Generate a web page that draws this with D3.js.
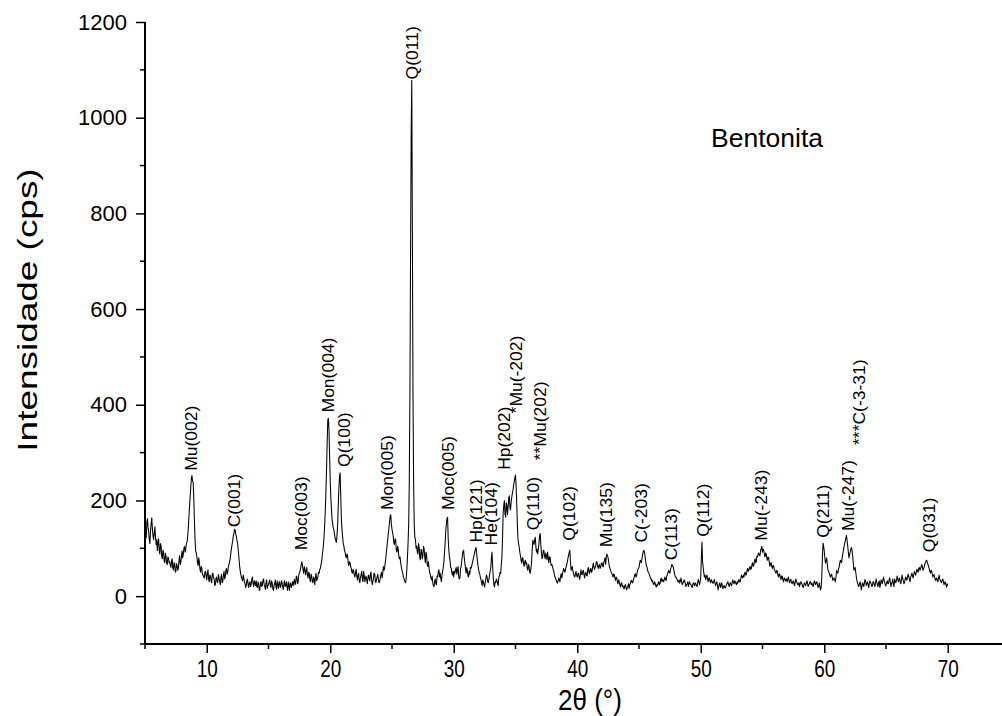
<!DOCTYPE html>
<html>
<head>
<meta charset="utf-8">
<script src="https://cdn.jsdelivr.net/npm/d3@7"></script>
<style>
  html, body { margin: 0; padding: 0; background: #fff; }
  svg { display: block; font-family: "Liberation Sans", Arial, sans-serif; }
</style>
</head>
<body>
<svg id="chart" width="1002" height="716"></svg>
<script>
// Scan: 5°–70° 2θ, step 0.05°. One row per whole degree (20 readings each).
const scanFirstDegree = 5;
const scanStep = 0.05;
const scanRows = [
  [148,128,122,155,162,142,135,116,110,138,152,164,140,126,118,132,145,124,108,118],
  [95,112,120,96,88,110,105,84,78,96,92,74,70,90,84,68,66,82,80,70],
  [72,64,60,74,78,58,55,70,68,50,52,68,64,54,58,74,85,66,70,82],
  [95,80,88,100,104,92,98,110,112,124,140,162,185,205,225,245,252,240,238,205],
  [160,120,95,90,82,70,64,80,72,56,50,62,58,46,44,40,38,50,52,42],
  [34,48,55,36,30,44,42,32,28,46,48,38,36,22,25,38,40,28,30,45],
  [38,30,24,40,46,28,30,44,52,36,40,54,58,46,50,62,66,72,78,90],
  [100,108,115,126,130,140,138,130,124,116,110,96,82,66,55,46,40,36,32,44],
  [38,30,26,18,22,34,35,24,18,28,30,20,25,36,40,26,20,32,28,22],
  [32,20,18,30,26,12,14,28,30,20,22,34,36,24,20,14,28,34,16,22],
  [24,30,34,22,18,32,28,16,12,22,26,34,20,14,32,24,16,28,30,18],
  [20,32,28,18,14,26,32,20,22,30,18,12,30,22,12,28,26,18,24,30],
  [22,30,35,24,28,42,40,26,30,44,48,52,58,66,72,64,55,48,62,56],
  [45,52,60,44,38,50,48,34,30,46,42,30,28,40,36,24,40,48,32,36],
  [40,50,48,56,58,66,72,84,95,108,125,150,180,220,265,320,368,372,345,290],
  [240,205,180,160,150,142,138,128,120,116,112,128,150,190,225,250,258,210,160,140],
  [125,110,105,96,92,84,80,88,86,70,64,72,70,62,58,50,48,56,52,44],
  [40,50,56,42,34,44,48,30,28,40,45,52,36,30,52,44,30,38,42,34],
  [26,38,44,36,32,46,50,34,24,30,38,48,46,32,28,36,40,46,34,28],
  [30,38,45,50,38,48,62,54,58,70,80,94,105,118,130,142,155,168,170,150],
  [140,132,125,110,108,120,118,96,92,104,100,84,78,82,70,62,55,50,44,38],
  [34,30,28,36,55,80,110,150,240,420,700,960,1078,760,420,240,150,124,118,100],
  [105,92,88,110,102,80,76,98,95,78,84,104,100,82,70,92,88,66,62,72],
  [58,50,45,38,34,42,28,22,20,30,36,26,24,42,40,52,55,40,48,36],
  [30,44,52,60,72,90,110,135,150,162,165,120,96,82,75,60,58,48,44,52],
  [40,52,48,56,60,46,54,62,42,36,38,58,62,74,85,94,96,80,70,58],
  [48,60,55,42,40,52,46,60,58,62,69,75,80,86,92,98,102,90,78,66],
  [58,50,47,40,35,28,22,34,30,24,19,28,36,44,40,30,28,36,45,52],
  [60,80,92,62,38,24,19,30,28,36,33,26,22,40,42,50,47,66,80,120],
  [173,190,200,172,165,195,190,170,186,205,210,185,180,198,207,215,222,232,240,248],
  [253,230,194,150,120,110,102,92,84,75,69,80,80,68,62,72,75,66,70,58],
  [54,66,62,50,48,58,70,96,117,112,108,118,123,104,92,98,88,100,110,126],
  [131,108,90,78,82,96,95,84,78,90,86,76,92,80,70,82,82,70,64,66],
  [61,56,52,44,40,36,34,30,27,32,38,34,30,42,47,38,44,52,58,54],
  [50,56,61,66,72,80,85,92,96,72,54,58,62,52,48,42,40,46,52,44],
  [40,46,48,40,35,44,55,46,45,52,54,44,38,48,50,44,42,56,60,50],
  [47,56,58,50,52,62,69,60,56,60,64,72,72,62,58,64,66,58,61,68],
  [70,64,61,70,75,80,66,82,88,84,80,70,62,58,54,50,48,44,40,46],
  [45,38,33,40,38,30,26,34,30,24,19,26,28,20,22,18,15,22,24,18],
  [13,18,20,26,16,24,26,32,33,28,28,36,38,44,47,40,42,50,55,58],
  [60,68,75,72,70,80,88,94,96,90,82,70,64,60,54,50,48,44,40,36],
  [36,30,33,26,24,30,28,22,19,24,22,28,30,24,26,34,38,30,35,32],
  [30,36,40,34,33,42,45,50,54,50,48,56,60,66,65,62,58,50,44,40],
  [40,36,35,30,30,34,27,32,38,30,24,28,28,34,32,26,20,24,26,30],
  [20,26,30,26,24,20,18,24,28,26,22,28,26,22,20,28,35,30,24,30],
  [40,80,113,72,60,48,40,44,35,40,44,36,30,38,38,32,28,34,32,28],
  [27,30,35,28,22,26,30,24,13,20,24,28,18,22,28,20,16,20,22,18],
  [17,22,25,28,30,24,20,26,28,24,22,30,34,28,26,32,30,26,24,30],
  [27,32,35,30,30,38,44,40,38,44,40,48,50,44,46,54,58,52,54,60],
  [62,56,58,66,70,62,64,74,78,70,72,84,82,88,90,86,85,96,100,104],
  [92,98,96,88,82,90,88,80,75,82,80,70,62,68,70,62,58,64,64,56],
  [54,50,48,54,52,44,40,46,46,38,35,42,42,34,30,38,38,32,33,36],
  [30,36,40,32,28,34,35,28,26,30,32,26,22,30,36,30,28,24,24,28],
  [20,26,30,28,25,20,18,24,28,24,22,28,32,26,20,24,26,30,30,24],
  [27,24,20,26,32,28,24,28,30,24,18,22,28,20,13,18,40,80,111,104],
  [95,80,69,74,80,66,55,52,48,44,40,44,46,38,33,36,38,34,30,40],
  [54,50,48,56,60,68,75,72,70,80,88,96,102,110,115,122,127,116,105,92],
  [80,86,92,98,102,96,84,70,54,58,60,50,40,32,27,22,20,26,30,24],
  [13,20,28,24,20,28,35,30,22,26,30,24,18,26,32,28,26,20,22,30],
  [30,24,20,28,36,30,24,20,28,32,18,24,34,30,26,34,40,32,28,22],
  [22,28,32,26,26,34,38,30,20,26,30,36,24,20,36,30,28,34,42,36],
  [30,36,38,30,26,34,44,38,32,26,28,36,40,34,34,42,46,40,36,30],
  [40,44,48,42,38,46,52,48,44,50,56,52,50,58,60,54,58,62,66,60],
  [54,58,62,68,70,74,75,70,66,62,58,52,48,54,52,46,40,44,45,38],
  [33,36,38,32,30,38,44,36,33,30,28,34,36,30,24,28,30,24,19,26],
  [22]
];

// Peak assignments: phase(hkl), 2θ position, and intensity level where the label begins
const peakLabels = ["Mu(002)","C(001)","Moc(003)","Mon(004)","Q(100)","Mon(005)","Q(011)",
  "Moc(005)","Hp(121)","He(104)","Hp(202)","*Mu(-202)","Q(110)","**Mu(202)","Q(102)",
  "Mu(135)","C(-203)","C(113)","Q(112)","Mu(-243)","Q(211)","Mu(-247)","***C(-3-31)","Q(031)"];
const peakAngles = [8.7,12.2,17.6,19.8,21.1,24.6,26.6,29.5,31.8,33.0,34.1,35.0,36.4,37.0,39.3,
  42.3,45.2,47.6,50.2,54.9,59.9,61.9,62.8,68.5];
const peakLevels = [262,144,96,384,270,180,1080,180,112,106,264,382,138,284,116,
  102,112,75,124,116,122,136,316,92];

const xTicks = [10,20,30,40,50,60,70];
const xMinorTicks = [5,15,25,35,45,55,65];
const yTicks = [0,200,400,600,800,1000,1200];
const yMinorTicks = [-100,100,300,500,700,900,1100];
const sampleName = "Bentonita";

const svg = d3.select("#chart");
const x = d3.scaleLinear().domain([5, 75]).range([145, 1009.5]);
const y = d3.scaleLinear().domain([-100, 1200]).range([644, 22]);

const points = [];
scanRows.forEach((row, r) => row.forEach((v, j) => {
  points.push([scanFirstDegree + r + j * scanStep, v]);
}));

// y axis
const yAxis = d3.axisLeft(y).tickValues(yTicks).tickSize(9).tickPadding(9).tickFormat(d3.format("d"));
const gy = svg.append("g").attr("transform", `translate(${x(5)},0)`).call(yAxis);
gy.select(".domain").attr("d", `M0,${y(1200)}V${y(-100)}`).attr("stroke-width", 2);
gy.selectAll(".tick line").attr("stroke-width", 1.5);
gy.selectAll(".tick text").attr("font-size", 22).attr("fill", "#000");
gy.selectAll(".minor").data(yMinorTicks).enter().append("line")
  .attr("x1", -5).attr("x2", 0).attr("y1", d => y(d)).attr("y2", d => y(d))
  .attr("stroke", "#000").attr("stroke-width", 1.5);

// x axis
const xAxis = d3.axisBottom(x).tickValues(xTicks).tickSize(9).tickPadding(7).tickFormat(d3.format("d"));
const gx = svg.append("g").attr("transform", `translate(0,${y(-100)})`).call(xAxis);
gx.select(".domain").attr("d", `M${x(5)},0H1002`).attr("stroke-width", 2);
gx.selectAll(".tick line").attr("stroke-width", 1.5);
gx.selectAll(".tick text").attr("font-size", 22).attr("fill", "#000")
  .attr("transform", "scale(0.86,1.05)");
gx.selectAll(".minor").data(xMinorTicks).enter().append("line")
  .attr("x1", d => x(d)).attr("x2", d => x(d)).attr("y1", 0).attr("y2", 5)
  .attr("stroke", "#000").attr("stroke-width", 1.5);

// diffractogram trace
svg.append("path").datum(points)
  .attr("fill", "none").attr("stroke", "#000").attr("stroke-width", 1.05)
  .attr("stroke-linejoin", "round")
  .attr("d", d3.line().x(d => x(d[0])).y(d => y(d[1])));

// peak labels, rotated
svg.append("g").selectAll("text").data(peakLabels).enter().append("text")
  .attr("transform", (d, i) => `translate(${x(peakAngles[i]) + 6},${y(peakLevels[i])}) rotate(-90) scale(1.06,1)`)
  .attr("font-size", 16.5).attr("fill", "#000")
  .text(d => d);

// titles
svg.append("text").attr("transform", "translate(590,710) scale(1,1.16)").attr("text-anchor", "middle")
  .attr("font-size", 26).text("2θ (°)");
svg.append("text").attr("transform", "translate(37,310) rotate(-90) scale(1.32,1)")
  .attr("text-anchor", "middle").attr("font-size", 28).text("Intensidade (cps)");
svg.append("text").attr("x", 711).attr("y", 147).attr("font-size", 26.5).text(sampleName);
</script>
</body>
</html>
